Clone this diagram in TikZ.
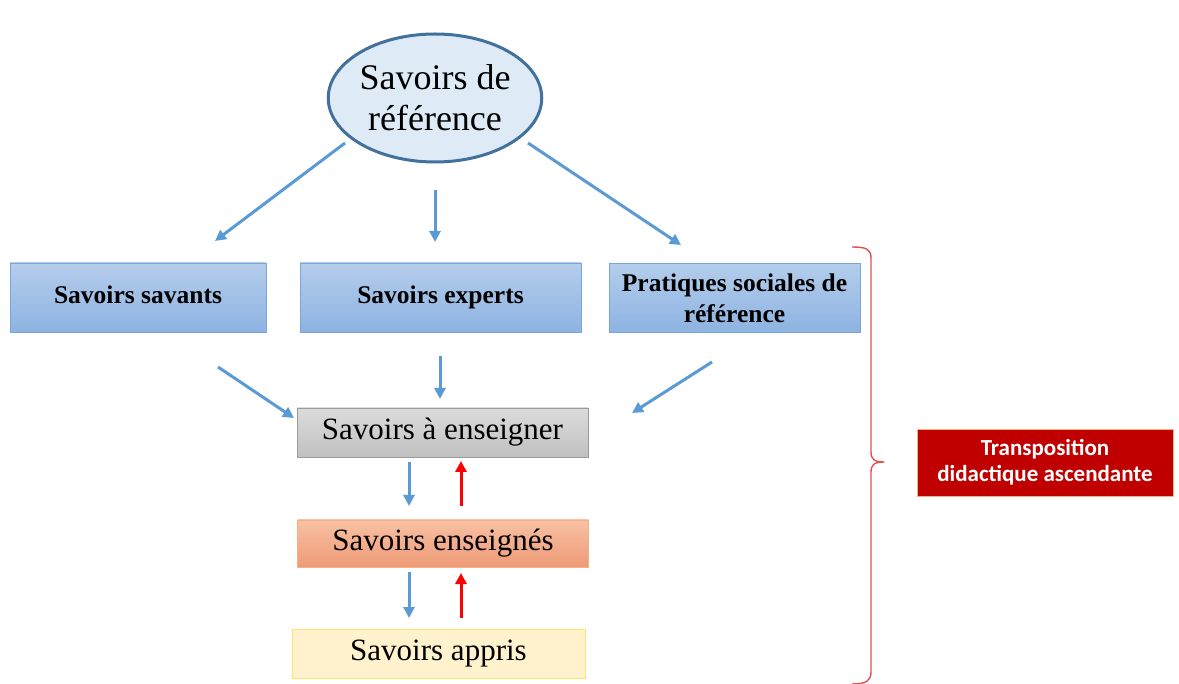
\documentclass[tikz,border=0pt]{standalone}
\usepackage{fontspec}
\setmainfont{Liberation Serif}
\newfontfamily\calib{Carlito}[BoldFont={Carlito Bold}]
\usetikzlibrary{arrows.meta,shapes.geometric}
\definecolor{arrblue}{HTML}{5B9BD5}
\definecolor{ellfill}{HTML}{DEEBF7}
\definecolor{elldraw}{HTML}{41719C}
\definecolor{bluetop}{HTML}{B4CDEB}
\definecolor{bluebot}{HTML}{8DB3E2}
\definecolor{blueline}{HTML}{7BA7D7}
\definecolor{graytop}{HTML}{DCDCDC}
\definecolor{graybot}{HTML}{C0C0C0}
\definecolor{orgtop}{HTML}{F8C1A4}
\definecolor{orgbot}{HTML}{EE9A76}
\definecolor{orgline}{HTML}{F4B183}
\definecolor{yelfill}{HTML}{FFF2CC}
\definecolor{yelline}{HTML}{FFE16B}
\definecolor{darkred}{HTML}{C00000}
\definecolor{bracered}{HTML}{E05050}
\tikzset{
  bluebox/.style={draw=blueline, line width=0.8pt, top color=bluetop, bottom color=bluebot,
    minimum width=#1, minimum height=69pt, font=\bfseries\fontsize{25.5}{31}\selectfont, align=center, inner sep=0pt},
  lowbox/.style={line width=0.8pt, minimum width=291pt, font=\fontsize{31}{34}\selectfont, inner sep=0pt,
    text height=21pt, text depth=7pt},
  barrow/.style={draw=arrblue, line width=3pt, -{Triangle[length=11pt,width=11pt]}},
  rarrow/.style={draw=red, line width=3pt, -{Triangle[length=11pt,width=11pt]}},
}
\begin{document}
\begin{tikzpicture}[x=1pt,y=-1pt]
\useasboundingbox (0,0) rectangle (1179,684);
\fill[white] (0,0) rectangle (1179,684);
% ellipse
\node[ellipse, draw=elldraw, fill=ellfill, line width=3pt, minimum width=200pt, minimum height=128pt,
  font=\fontsize{36}{42}\selectfont, align=center, inner sep=0pt] (ref) at (435,98) {Savoirs de\\[-1pt]référence};
% blue boxes
\node[bluebox=256pt, text height=18pt, text depth=6pt] (savants) at (138,297.5) {Savoirs savants};
\node[bluebox=281pt, text height=18pt, text depth=6pt] (experts) at (440.5,297.5) {Savoirs experts};
\node[bluebox=251pt] (pratiques) at (734.5,298) {Pratiques sociales de\\référence};
% lower boxes
\node[lowbox, draw=graybot!80!black, top color=graytop, bottom color=graybot, minimum height=49pt] (aens) at (442.5,432.5) {Savoirs à enseigner};
\node[lowbox, draw=orgline, top color=orgtop, bottom color=orgbot, minimum height=47pt] (ens) at (443,543.5) {Savoirs enseignés};
\node[lowbox, draw=yelline, fill=yelfill, minimum width=293pt, minimum height=49pt] (appris) at (438.5,653.5) {Savoirs appris};
% red box
\node[draw=orgline, fill=darkred, text=white, minimum width=256pt, minimum height=67pt, inner sep=0pt,
  font=\calib\bfseries\fontsize{23}{26}\selectfont, align=center] (tda) at (1045,462.5) {Transposition\\didactique ascendante};
% arrow coordinates
\coordinate (a1s) at (345,143); \coordinate (a1e) at (215,241);
\coordinate (a2s) at (435,190); \coordinate (a2e) at (435,242);
\coordinate (a3s) at (528,143); \coordinate (a3e) at (681,245);
\coordinate (b1s) at (218,367); \coordinate (b1e) at (294,418);
\coordinate (b2s) at (440,356); \coordinate (b2e) at (440,399);
\coordinate (b3s) at (712,362); \coordinate (b3e) at (632,413);
\coordinate (c1s) at (409,462); \coordinate (c1e) at (409,506);
\coordinate (c2s) at (461,506); \coordinate (c2e) at (461,461);
\coordinate (d1s) at (409,572); \coordinate (d1e) at (409,618);
\coordinate (d2s) at (461,618); \coordinate (d2e) at (461,573);
\draw[barrow] (a1s) -- (a1e);
\draw[barrow] (a2s) -- (a2e);
\draw[barrow] (a3s) -- (a3e);
\draw[barrow] (b1s) -- (b1e);
\draw[barrow] (b2s) -- (b2e);
\draw[barrow] (b3s) -- (b3e);
\draw[barrow] (c1s) -- (c1e);
\draw[rarrow] (c2s) -- (c2e);
\draw[barrow] (d1s) -- (d1e);
\draw[rarrow] (d2s) -- (d2e);
% brace
\coordinate (bt) at (852,247); \coordinate (btip) at (884,462); \coordinate (bb) at (852,684);
\draw[bracered, line width=1.4pt, line join=round]
  (bt) .. controls (866,247) and (871,249) .. (871,258)
  -- (871,452) .. controls (871,459) and (874,462) .. (btip)
  .. controls (874,462) and (871,465) .. (871,472)
  -- (871,672) .. controls (871,681) and (866,684) .. (bb);
\end{tikzpicture}
\end{document}
